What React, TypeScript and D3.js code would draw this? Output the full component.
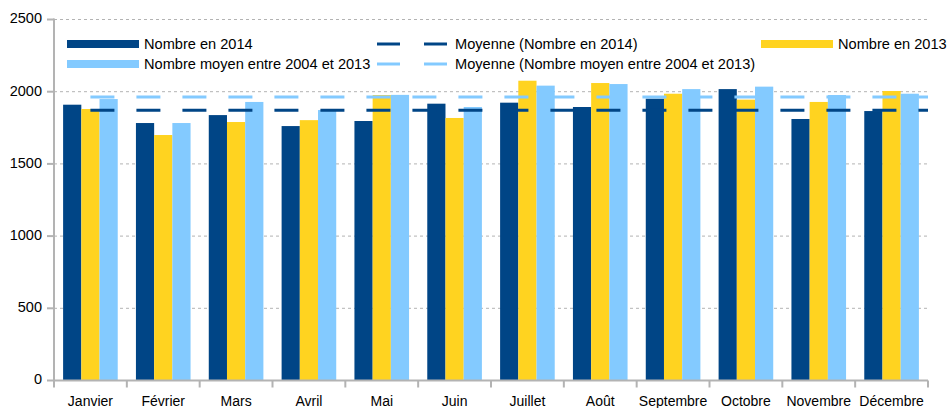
import React from "react";
import * as d3 from "d3";

const months = ["Janvier", "Février", "Mars", "Avril", "Mai", "Juin", "Juillet", "Août", "Septembre", "Octobre", "Novembre", "Décembre"];
const nombre2014 = [1910, 1783, 1838, 1762, 1797, 1917, 1924, 1894, 1952, 2018, 1811, 1866];
const nombre2013 = [1880, 1700, 1790, 1803, 1977, 1818, 2076, 2060, 1986, 1945, 1929, 2005];
const moyen2004_2013 = [1949, 1783, 1929, 1873, 1978, 1894, 2042, 2053, 2018, 2035, 1977, 1986];
const moyenne2014 = 1871;
const moyenneMoyen = 1963;
const yTicks = [0, 500, 1000, 1500, 2000, 2500];

const seriesNames = ["Nombre en 2014", "Nombre en 2013", "Nombre moyen entre 2004 et 2013"];
const seriesValues = [nombre2014, nombre2013, moyen2004_2013];
const colors = ["#004586", "#ffd320", "#83caff"];

const W = 949, H = 408;
const left = 54, right = 928, top = 19.5, bottom = 380.5;
const FONT = "'Liberation Sans', Arial, sans-serif";

export default function App() {
  const x0 = d3.scaleBand<string>().domain(months).range([left, right]).padding(0);
  const x1 = d3.scaleBand<string>().domain(seriesNames).range([0, x0.bandwidth()]).paddingInner(0).paddingOuter(0.5);
  const y = d3.scaleLinear().domain([0, 2500]).range([bottom, top]);

  const lineStart = (x0(months[0]) as number) + x0.bandwidth() / 2;

  const legendItems = [
    { label: "Nombre en 2014", type: "bar", color: colors[0], x: 67, y: 44 },
    { label: "Moyenne (Nombre en 2014)", type: "dash", color: colors[0], x: 377, y: 44 },
    { label: "Nombre en 2013", type: "bar", color: colors[1], x: 761, y: 44 },
    { label: "Nombre moyen entre 2004 et 2013", type: "bar", color: colors[2], x: 67, y: 64 },
    { label: "Moyenne (Nombre moyen entre 2004 et 2013)", type: "dash", color: colors[2], x: 377, y: 64 },
  ];

  return (
    <svg width={W} height={H} style={{ position: "absolute", left: 0, top: 0, background: "#fff" }} fontFamily={FONT}>
      {yTicks.map((t) => (
        <g key={t}>
          {t > 0 && (
            <line x1={left} x2={right} y1={y(t)} y2={y(t)} stroke="#b3b3b3" strokeWidth={1} strokeDasharray="3 3" />
          )}
          <line x1={47} x2={left} y1={y(t)} y2={y(t)} stroke="#b3b3b3" strokeWidth={2} />
          <text x={42} y={y(t)} textAnchor="end" dominantBaseline="middle" fontSize={14.5} fill="#000">{t}</text>
        </g>
      ))}
      {months.map((m, i) => (
        <g key={m}>
          {seriesNames.map((s, j) => {
            const v = seriesValues[j][i];
            return (
              <rect key={s} x={(x0(m) as number) + (x1(s) as number)} y={y(v)} width={x1.bandwidth()} height={y(0) - y(v)} fill={colors[j]} />
            );
          })}
        </g>
      ))}
      <line x1={lineStart} x2={right} y1={y(moyenneMoyen)} y2={y(moyenneMoyen)} stroke={colors[2]} strokeWidth={3} strokeDasharray="24 22" />
      <line x1={lineStart} x2={right} y1={y(moyenne2014)} y2={y(moyenne2014)} stroke={colors[0]} strokeWidth={3} strokeDasharray="24 22" />
      <line x1={left} x2={left} y1={top - 1} y2={bottom + 1} stroke="#b3b3b3" strokeWidth={2} />
      <line x1={left} x2={right} y1={bottom} y2={bottom} stroke="#b3b3b3" strokeWidth={2} />
      {months.concat([""]).map((m, i) => {
        const xx = left + i * x0.step();
        return <line key={"t" + i} x1={xx} x2={xx} y1={bottom} y2={bottom + 7} stroke="#b3b3b3" strokeWidth={2} />;
      })}
      {months.map((m) => (
        <text key={"l" + m} x={(x0(m) as number) + x0.bandwidth() / 2} y={406} textAnchor="middle" fontSize={14} fill="#000">{m}</text>
      ))}
      {legendItems.map((it) => (
        <g key={it.label}>
          {it.type === "bar" ? (
            <rect x={it.x} y={it.y - 4} width={72} height={8} fill={it.color} />
          ) : (
            <g>
              <line x1={it.x} x2={it.x + 23} y1={it.y} y2={it.y} stroke={it.color} strokeWidth={3} />
              <line x1={it.x + 47} x2={it.x + 70} y1={it.y} y2={it.y} stroke={it.color} strokeWidth={3} />
            </g>
          )}
          <text x={it.x + (it.type === "bar" ? 77 : 78)} y={it.y + 1} dominantBaseline="middle" fontSize={14.6} fill="#000">{it.label}</text>
        </g>
      ))}
    </svg>
  );
}
